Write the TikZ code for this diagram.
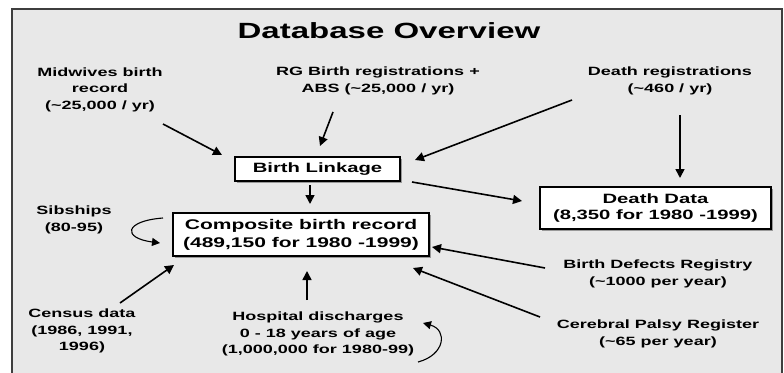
\documentclass[tikz,border=0pt]{standalone}
\usepackage{fontspec}
\setmainfont{Liberation Sans}[FakeStretch=1.5]
\usetikzlibrary{arrows.meta,shadows}
\definecolor{panelgray}{RGB}{232,232,232}
\definecolor{framegray}{RGB}{62,62,62}

\begin{document}
\begin{tikzpicture}[x=1pt,y=-1pt,
  lbl/.style={align=center,inner sep=0pt,font=\fontsize{12}{16.5}\selectfont\bfseries},
  recbox/.style={draw,line width=1.2pt,fill=white,align=center,inner sep=0pt,
    drop shadow={shadow xshift=1.6pt,shadow yshift=-1.6pt,fill=gray!80,opacity=1}},
  arr/.style={line width=1.6pt,-{Triangle[length=9pt,width=9pt]}},
  looparr/.style={line width=1.1pt,-{Triangle[length=8pt,width=8pt]}}]
  %Page and panel
  \useasboundingbox (0,0) rectangle (784,372);
  \draw[framegray,line width=2pt,fill=panelgray] (12,9) rectangle (782,392);
  \node (title) at (389,31) {\fontsize{22}{26}\selectfont\bfseries Database Overview};

  %Boxes
  \node[recbox,minimum width=165pt,minimum height=24pt,font=\fontsize{13.5}{16}\selectfont\bfseries]
    (link) at (317.5,169) {Birth Linkage};
  \node[recbox,minimum width=256pt,minimum height=43pt,font=\fontsize{14}{18}\selectfont\bfseries]
    (comp) at (301,234.5) {Composite birth record\\(489,150 for 1980 -1999)};
  \node[recbox,minimum width=231pt,minimum height=42pt,font=\fontsize{13.5}{16.5}\selectfont\bfseries]
    (death) at (655.5,208) {Death Data\\(8,350 for 1980 -1999)};

  %Sources
  \node[lbl] (midw) at (100,89.5) {Midwives birth\\record\\(\textasciitilde25,000 / yr)};
  \node[lbl] (rg) at (378,81) {RG Birth registrations +\\ABS (\textasciitilde25,000 / yr)};
  \node[lbl] (dreg) at (670,81) {Death registrations\\(\textasciitilde460 / yr)};
  \node[lbl] (sib) at (74,220) {Sibships\\(80-95)};
  \node[lbl] (cens) at (82,331) {Census data\\(1986, 1991,\\1996)};
  \node[lbl] (hosp) at (318,334) {Hospital discharges\\0 - 18 years of age\\(1,000,000 for 1980-99)};
  \node[lbl] (bdr) at (658,274) {Birth Defects Registry\\(\textasciitilde1000 per year)};
  \node[lbl] (cpr) at (658,334) {Cerebral Palsy Register\\(\textasciitilde65 per year)};

  %Arrow ends
  \coordinate (midwA) at (163,124);  \coordinate (midwB) at (222,155);
  \coordinate (rgA) at (333,112);    \coordinate (rgB) at (320,146);
  \coordinate (dregA) at (572,100);  \coordinate (dregB) at (415,160);
  \coordinate (dregC) at (680,115);  \coordinate (dregD) at (680,178);
  \coordinate (linkA) at (310,185);  \coordinate (linkB) at (310,204);
  \coordinate (linkC) at (412,182);  \coordinate (linkD) at (522,201);
  \coordinate (sibA) at (163,218);   \coordinate (sibB) at (160,243);
  \coordinate (censA) at (120,303);  \coordinate (censB) at (174,265);
  \coordinate (hospA) at (307,300);  \coordinate (hospB) at (307,271);
  \coordinate (hospC) at (418,362);  \coordinate (hospD) at (423,323);
  \coordinate (bdrA) at (545,268);   \coordinate (bdrB) at (432,247);
  \coordinate (cprA) at (540,317);   \coordinate (cprB) at (413,268);

  %Arrows
  \draw[arr] (midwA) -- (midwB);
  \draw[arr] (rgA) -- (rgB);
  \draw[arr] (dregA) -- (dregB);
  \draw[arr] (dregC) -- (dregD);
  \draw[arr] (linkA) -- (linkB);
  \draw[arr] (linkC) -- (linkD);
  \draw[arr] (censA) -- (censB);
  \draw[arr] (hospA) -- (hospB);
  \draw[arr] (bdrA) -- (bdrB);
  \draw[arr] (cprA) -- (cprB);
  %Loops
  \draw[looparr] (sibA) .. controls (124,221) and (122,238) .. (sibB);
  \draw[looparr] (hospC) .. controls (445,355) and (448,330) .. (hospD);
\end{tikzpicture}
\end{document}
